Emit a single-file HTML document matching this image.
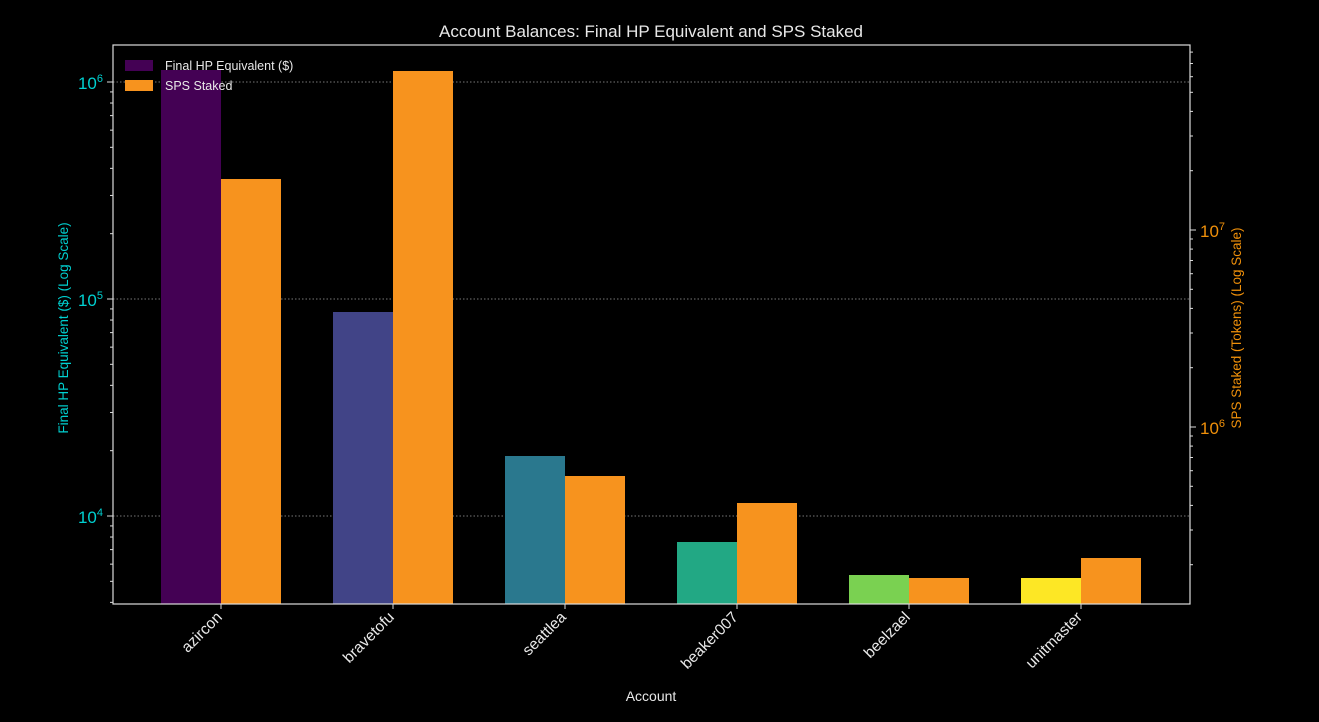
<!DOCTYPE html>
<html><head><meta charset="utf-8"><style>
html,body{margin:0;padding:0;background:#000;width:1319px;height:722px;overflow:hidden}
svg{display:block;font-family:"Liberation Sans",sans-serif}
</style></head><body>
<svg id="s" width="1319" height="722" viewBox="0 0 1319 722">
<rect width="1319" height="722" fill="#000"/>
<text x="651" y="37" fill="#e8e8e8" font-size="17" text-anchor="middle">Account Balances: Final HP Equivalent and SPS Staked</text>
<g stroke="#777" stroke-dasharray="1.5,2" stroke-width="1">
<line x1="113" x2="1190" y1="82" y2="82"/><line x1="113" x2="1190" y1="299" y2="299"/><line x1="113" x2="1190" y1="516" y2="516"/>
</g>
<g id="bars"></g>
<g id="ticks" stroke="#ddd" stroke-width="1"></g>
<rect x="113" y="45" width="1077" height="559" fill="none" stroke="#ddd" stroke-width="1.2"/>
<g font-size="17" fill="#00d0d0" text-anchor="end">
<text x="103" y="89">10<tspan dy="-7" font-size="11">6</tspan></text>
<text x="103" y="306">10<tspan dy="-7" font-size="11">5</tspan></text>
<text x="103" y="523">10<tspan dy="-7" font-size="11">4</tspan></text>
</g>
<g font-size="17" fill="#f0900a">
<text x="1200" y="237">10<tspan dy="-7" font-size="11">7</tspan></text>
<text x="1200" y="434">10<tspan dy="-7" font-size="11">6</tspan></text>
</g>
<text transform="translate(68,328) rotate(-90)" fill="#00d0d0" font-size="13.5" text-anchor="middle">Final HP Equivalent ($) (Log Scale)</text>
<text transform="translate(1241,328) rotate(-90)" fill="#f0900a" font-size="13.5" text-anchor="middle">SPS Staked (Tokens) (Log Scale)</text>
<text x="651" y="701" fill="#e8e8e8" font-size="14" text-anchor="middle">Account</text>
<g id="xl" fill="#e8e8e8" font-size="15.5" text-anchor="end"></g>
<rect x="125" y="60" width="28" height="11" fill="#440154"/>
<rect x="125" y="80" width="28" height="11" fill="#f7931e"/>
<text x="165" y="70" fill="#e8e8e8" font-size="12.5">Final HP Equivalent ($)</text>
<text x="165" y="90" fill="#e8e8e8" font-size="12.5">SPS Staked</text>
</svg>
<script>
var ns="http://www.w3.org/2000/svg";
function el(p,t,a){var e=document.createElementNS(ns,t);for(var k in a)e.setAttribute(k,a[k]);p.appendChild(e);return e;}
var names=["azircon","bravetofu","seattlea","beaker007","beelzael","unitmaster"];
var cols=["#440154","#414487","#2a788e","#22a884","#7ad151","#fde725"];
var pt=[70,312,456,542,575,578], ot=[179,71,476,503,578,558];
var bars=document.getElementById("bars"),tk=document.getElementById("ticks"),xl=document.getElementById("xl");
for(var i=0;i<6;i++){var c=221+172*i;
el(bars,"rect",{x:c-60,y:pt[i],width:60,height:604-pt[i],fill:cols[i]});
el(bars,"rect",{x:c,y:ot[i],width:60,height:604-ot[i],fill:"#f7931e"});
el(tk,"line",{x1:c,x2:c,y1:604,y2:609});
var t=el(xl,"text",{transform:"translate("+(c+2)+",618) rotate(-45)"});t.textContent=names[i];}
for(var d=0;d<4;d++)for(var k=1;k<10;k++){var y=733-217*d-217*Math.log10(k);
if(y<45||y>604)continue;el(tk,"line",{x1:113,x2:k==1?107:110,y1:y,y2:y});}
for(var d=0;d<4;d++)for(var k=1;k<10;k++){var y=624-197*d-197*Math.log10(k);
if(y<45||y>604)continue;el(tk,"line",{x1:1190,x2:k==1?1196:1193,y1:y,y2:y});}
</script>
</body></html>
